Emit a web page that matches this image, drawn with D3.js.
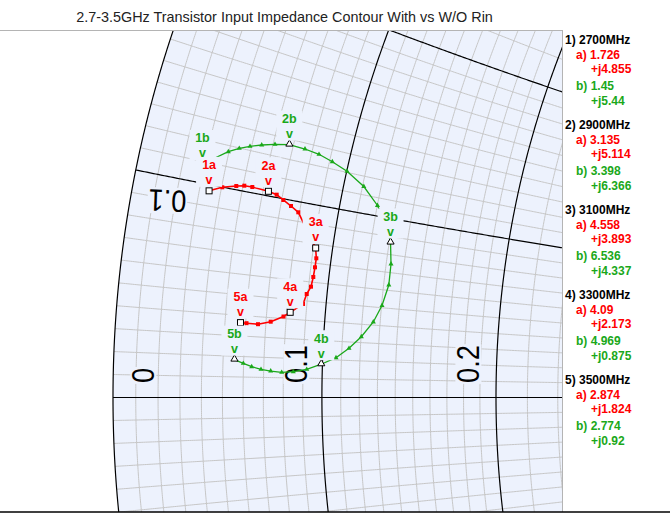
<!DOCTYPE html>
<html>
<head>
<meta charset="utf-8">
<script src="https://cdn.jsdelivr.net/npm/d3@7"></script>
<style>
  body { margin: 0; background: #fff; }
</style>
</head>
<body>
<div id="chart"></div>
<script>
const title = '2.7-3.5GHz Transistor Input Impedance Contour With vs W/O Rin'
const Z0 = 50

// legend / labelled points, ohms
const freqs = ['2700MHz', '2900MHz', '3100MHz', '3300MHz', '3500MHz']
const aR = [1.726, 3.135, 4.558, 4.09, 2.874]
const aX = [4.855, 5.114, 3.893, 2.173, 1.824]
const bR = [1.45, 3.398, 6.536, 4.969, 2.774]
const bX = [5.44, 6.366, 4.337, 0.875, 0.92]

// swept traces, ohms
const redR = [1.726, 2.017, 2.340, 2.528, 2.725, 3.135, 3.353, 3.541, 3.760, 3.971, 4.558,
  4.612, 4.608, 4.594, 4.562, 4.471, 4.400, 4.09, 3.929, 3.617, 3.306, 3.021, 2.874]
const redX = [4.855, 4.996, 5.090, 5.135, 5.141, 5.114, 5.070, 4.970, 4.856, 4.731, 3.893,
  3.629, 3.392, 3.136, 2.879, 2.679, 2.413, 2.173, 2.053, 1.899, 1.815, 1.820, 1.824]
const greenR = [1.45, 1.982, 2.220, 2.461, 2.732, 3.047, 3.398, 3.809, 4.191, 4.573, 5.008,
  5.536, 6.004, 6.332, 6.536, 6.634, 6.644, 6.513, 6.310, 6.008, 5.691, 5.353, 4.969,
  4.593, 4.249, 3.954, 3.676, 3.433, 3.201, 2.992, 2.774]
const greenX = [5.44, 5.854, 5.992, 6.098, 6.195, 6.288, 6.366, 6.349, 6.300, 6.190, 6.029,
  5.724, 5.288, 4.799, 4.337, 3.743, 3.151, 2.562, 2.086, 1.661, 1.329, 1.062, 0.875,
  0.732, 0.661, 0.638, 0.664, 0.701, 0.759, 0.836, 0.92]

// smith grid (normalised)
const rMajor = [0, 0.1, 0.2]
const xMajor = [0, 0.1, -0.1, 0.2, -0.2]
const fine = d3.range(1, 20).map(d => d / 100).filter(d => d !== 0.1)
  .concat(d3.range(11, 26).map(d => d * 2 / 100))
const rMinor = fine
const xMinor = fine.concat(fine.map(d => -d))
const rTickLabels = ['0', '0.1', '0.2']
const xTickLabels = ['0.1']

const W = 670, H = 516
const red = '#ff0000', green = '#1aa81a', bg = '#edf2fd', gridCol = '#c6c6c6'
const gx0 = 113, gy0 = 397.5, unit = 1149

const svg = d3.select('#chart').append('svg')
  .attr('width', W).attr('height', H)
  .style('font-family', '"Liberation Sans", Arial, sans-serif')

const xS = d3.scaleLinear().domain([-1, 0]).range([gx0, gx0 + unit])
const yS = d3.scaleLinear().domain([0, 1]).range([gy0, gy0 - unit])

function gamma(r, x) {
  const d = (1 + r) * (1 + r) + x * x
  return [(r * r + x * x - 1) / d, 2 * x / d]
}
const toPx = (R, X) => { const g = gamma(R / Z0, X / Z0); return [xS(g[0]), yS(g[1])] }

const line = d3.line().x(d => xS(d[0])).y(d => yS(d[1]))
const xs = d3.range(-800, 801).map(d => d / 1000)
const rs = d3.range(0, 1501).map(d => d / 1000)
const rPath = r => line(xs.map(x => gamma(r, x)))
const xPath = x => line(rs.map(r => gamma(r, x)))

svg.append('text')
  .attr('x', 284.5).attr('y', 21.5)
  .attr('text-anchor', 'middle')
  .style('font-size', '14.4px')
  .attr('fill', '#222')
  .text(title)

const defs = svg.append('defs')
defs.append('clipPath').attr('id', 'clipRect').append('rect')
  .attr('x', 0).attr('y', 30).attr('width', 562).attr('height', 482)
defs.append('clipPath').attr('id', 'clipDisk').append('circle')
  .attr('cx', xS(0)).attr('cy', yS(0)).attr('r', unit)

const plot = svg.append('g').attr('clip-path', 'url(#clipRect)')
plot.append('circle')
  .attr('cx', xS(0)).attr('cy', yS(0)).attr('r', unit)
  .attr('fill', bg)

const grid = plot.append('g').attr('clip-path', 'url(#clipDisk)').attr('fill', 'none')
grid.selectAll('.rmin').data(rMinor).enter().append('path')
  .attr('d', rPath).attr('stroke', gridCol).attr('stroke-width', 1)
grid.selectAll('.xmin').data(xMinor).enter().append('path')
  .attr('d', xPath).attr('stroke', gridCol).attr('stroke-width', 1)
grid.selectAll('.rmaj').data(rMajor.filter(r => r > 0)).enter().append('path')
  .attr('d', rPath).attr('stroke', '#000').attr('stroke-width', 1.2)
grid.selectAll('.xmaj').data(xMajor).enter().append('path')
  .attr('d', xPath).attr('stroke', '#000').attr('stroke-width', 1.2)
plot.append('path').attr('d', rPath(0))
  .attr('fill', 'none').attr('stroke', '#000').attr('stroke-width', 1.2)

// big grid labels
const rLabelPos = [[154, 383], [307, 383], [479, 383]]
const bigLab = plot.append('g').style('font-size', '31px').attr('fill', '#000')
function bigLabel(txt, transform, anchor) {
  const t = bigLab.append('text').attr('transform', transform)
    .attr('text-anchor', anchor).text(txt)
  const b = t.node().getBBox()
  bigLab.insert('rect', 'text')
    .attr('transform', transform)
    .attr('x', b.x - 1).attr('y', b.y + 4).attr('width', b.width + 2).attr('height', b.height - 8)
    .attr('fill', bg)
}
rTickLabels.forEach((t, i) => {
  bigLabel(t, `translate(${rLabelPos[i][0]},${rLabelPos[i][1]}) rotate(-90) scale(0.88,1)`, 'start')
})
bigLabel(xTickLabels[0], 'translate(167.8,190) rotate(182) scale(0.88,1)', 'middle')

// traces
const traces = [
  { R: redR, X: redX, col: red, aR: aR, aX: aX, w: 1.6, kind: 'sq', tag: 'a' },
  { R: greenR, X: greenX, col: green, aR: bR, aX: bX, w: 1.3, kind: 'tri', tag: 'b' }
]
const trLine = d3.line()
traces.forEach(t => {
  const pts = t.R.map((r, i) => toPx(r, t.X[i]))
  plot.append('path').attr('d', trLine(pts))
    .attr('fill', 'none').attr('stroke', t.col).attr('stroke-width', t.w)
  const isLab = (r, i) => t.aR.some((a, k) => a === r && t.aX[k] === t.X[i])
  const small = pts.filter((p, i) => !isLab(t.R[i], i))
  if (t.kind === 'sq') {
    plot.selectAll(null).data(small).enter().append('rect')
      .attr('x', d => d[0] - 2).attr('y', d => d[1] - 2)
      .attr('width', 4).attr('height', 4).attr('fill', t.col)
  } else {
    plot.selectAll(null).data(small).enter().append('path')
      .attr('d', d3.symbol(d3.symbolTriangle).size(11))
      .attr('transform', d => `translate(${d[0]},${d[1]})`).attr('fill', t.col)
  }
})

// labelled markers and tags
traces.forEach(t => {
  const pts = t.aR.map((r, i) => toPx(r, t.aX[i]))
  if (t.kind === 'sq') {
    plot.selectAll(null).data(pts).enter().append('rect')
      .attr('x', d => d[0] - 3).attr('y', d => d[1] - 3)
      .attr('width', 6).attr('height', 6)
      .attr('fill', '#fff').attr('stroke', '#000').attr('stroke-width', 1)
  } else {
    plot.selectAll(null).data(pts).enter().append('path')
      .attr('d', d3.symbol(d3.symbolTriangle).size(22))
      .attr('transform', d => `translate(${d[0]},${d[1] - 0.5})`)
      .attr('fill', '#fff').attr('stroke', '#000').attr('stroke-width', 1)
  }
})
traces.forEach(t => {
  const pts = t.aR.map((r, i) => toPx(r, t.aX[i]))
  const g = plot.append('g').style('font-size', '12.5px').style('font-weight', 'bold')
    .attr('fill', t.col).attr('text-anchor', 'middle')
  pts.forEach((p, i) => {
    g.append('rect').attr('x', p[0] - 13).attr('y', p[1] - 34)
      .attr('width', 26).attr('height', 30).attr('fill', bg)
    g.append('text').attr('x', p[0]).attr('y', p[1] - 21.5).text(`${i + 1}${t.tag}`)
    g.append('text').attr('x', p[0]).attr('y', p[1] - 6.5).text('v')
  })
})

// frame
svg.append('line').attr('x1', 0).attr('x2', 562).attr('y1', 30.5).attr('y2', 30.5)
  .attr('stroke', '#b4b4b4')
svg.append('line').attr('x1', 562.5).attr('x2', 562.5).attr('y1', 30).attr('y2', 512)
  .attr('stroke', '#b4b4b4')
svg.append('line').attr('x1', 0).attr('x2', W).attr('y1', 512).attr('y2', 512)
  .attr('stroke', '#000').attr('stroke-width', 1.5)

// legend
const leg = svg.append('g').style('font-size', '12px').style('font-weight', 'bold')
freqs.forEach((f, i) => {
  const y0 = 43.5 + i * 85
  leg.append('text').attr('x', 565).attr('y', y0).attr('fill', '#000').text(`${i + 1}) ${f}`)
  leg.append('text').attr('x', 576).attr('y', y0 + 15).attr('fill', red).text(`a) ${aR[i]}`)
  leg.append('text').attr('x', 591).attr('y', y0 + 29.5).attr('fill', red).text(`+j${aX[i]}`)
  leg.append('text').attr('x', 576).attr('y', y0 + 46).attr('fill', green).text(`b) ${bR[i]}`)
  leg.append('text').attr('x', 591).attr('y', y0 + 61).attr('fill', green).text(`+j${bX[i]}`)
})
</script>
</body>
</html>
